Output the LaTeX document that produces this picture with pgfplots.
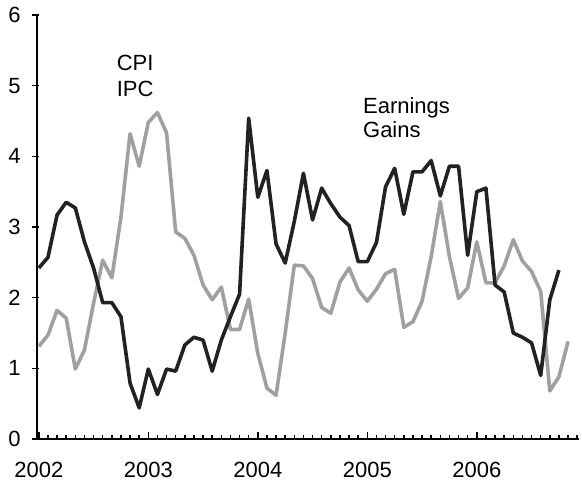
\documentclass[border=0pt]{standalone}
\usepackage{fontspec}
\setmainfont{Liberation Sans}
\usepackage{pgfplots}
\pgfplotsset{compat=1.18}
\definecolor{darkline}{HTML}{222222}
\definecolor{grayline}{HTML}{A0A0A0}
\begin{document}
\fontsize{11}{13}\selectfont
\begin{tikzpicture}
\path[use as bounding box] (-18.5pt,-21.5pt) rectangle (272.5pt,219.5pt);
\begin{axis}[
 name=ax,
 scale only axis,
 width=271pt, height=212pt,
 xmin=-0.2, xmax=59.2, ymin=0, ymax=6,
 clip=false,
 axis x line*=bottom, axis y line*=left,
 axis line style={line width=1pt, -},
 tick align=inside,
 major tick length=3.5pt, minor tick length=2pt,
 tick style={line width=0.8pt, black},
 xtick={0,12,24,36,48},
 xticklabels={2002,2003,2004,2005,2006},
 minor xtick={1,2,3,4,5,6,7,8,9,10,11,13,14,15,16,17,18,19,20,21,22,23,25,26,27,28,29,30,31,32,33,34,35,37,38,39,40,41,42,43,44,45,46,47,49,50,51,52,53,54,55,56,57,58,59},
 ytick={0,1,2,3,4,5,6},
 ytick style={xshift=-2.5pt},
 xticklabel style={yshift=-7.8pt},
 yticklabel style={xshift=-4.3pt},
 /pgf/number format/assume math mode=true,
]
\addplot[grayline, line width=1.8pt, line join=round, mark=none] coordinates {
(0,1.31) (1,1.47) (2,1.82) (3,1.71) (4,0.99) (5,1.26) (6,1.92) (7,2.53) (8,2.28) (9,3.14)
(10,4.32) (11,3.86) (12,4.48) (13,4.62) (14,4.33) (15,2.93) (16,2.84) (17,2.60) (18,2.18) (19,1.97)
(20,2.15) (21,1.55) (22,1.55) (23,1.98) (24,1.21) (25,0.72) (26,0.62) (27,1.50) (28,2.46) (29,2.45)
(30,2.27) (31,1.86) (32,1.78) (33,2.22) (34,2.42) (35,2.11) (36,1.95) (37,2.12) (38,2.34) (39,2.40)
(40,1.58) (41,1.66) (42,1.95) (43,2.58) (44,3.36) (45,2.58) (46,1.99) (47,2.14) (48,2.79) (49,2.21)
(50,2.21) (51,2.45) (52,2.82) (53,2.52) (54,2.37) (55,2.09) (56,0.68) (57,0.88) (58,1.38)
};
\addplot[darkline, line width=1.8pt, line join=round, mark=none] coordinates {
(0,2.42) (1,2.57) (2,3.17) (3,3.35) (4,3.27) (5,2.79) (6,2.42) (7,1.93) (8,1.93) (9,1.73)
(10,0.79) (11,0.44) (12,0.99) (13,0.63) (14,0.99) (15,0.96) (16,1.33) (17,1.44) (18,1.40) (19,0.96)
(20,1.40) (21,1.73) (22,2.05) (23,4.54) (24,3.42) (25,3.80) (26,2.76) (27,2.49) (28,3.08) (29,3.76)
(30,3.10) (31,3.55) (32,3.33) (33,3.14) (34,3.02) (35,2.51) (36,2.51) (37,2.78) (38,3.57) (39,3.83)
(40,3.18) (41,3.78) (42,3.78) (43,3.94) (44,3.44) (45,3.86) (46,3.86) (47,2.60) (48,3.50) (49,3.55)
(50,2.18) (51,2.08) (52,1.50) (53,1.44) (54,1.36) (55,0.90) (56,1.97) (57,2.39)
};
\node[anchor=base west, inner sep=0pt] at (axis cs:8.5,5.22) {CPI};
\node[anchor=base west, inner sep=0pt] at (axis cs:8.5,4.84) {IPC};
\node[anchor=base west, inner sep=0pt] at (axis cs:35.5,4.61) {Earnings};
\node[anchor=base west, inner sep=0pt] at (axis cs:35.5,4.26) {Gains};
\end{axis}
\end{tikzpicture}
\end{document}
